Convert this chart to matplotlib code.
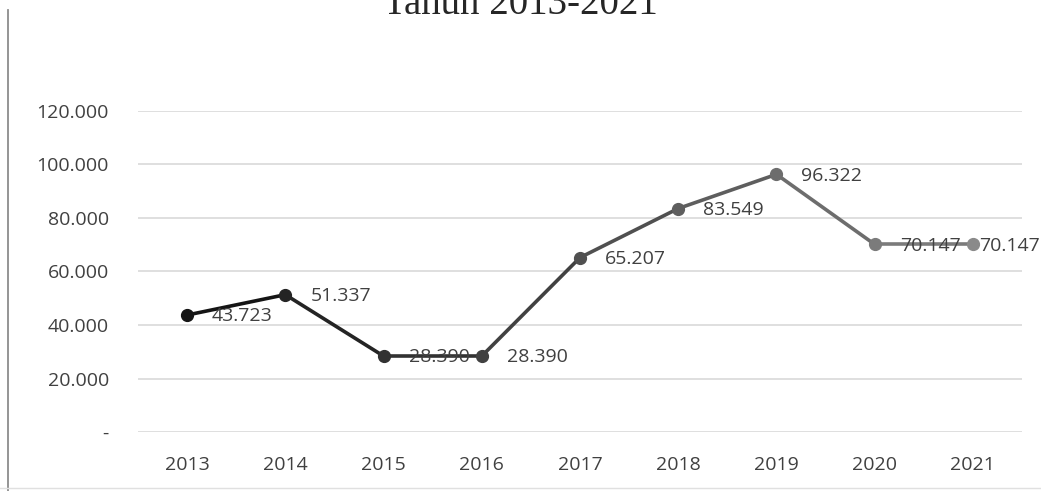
import matplotlib
matplotlib.use("Agg")
import matplotlib.pyplot as plt
import numpy as np
from matplotlib.colors import to_rgb

years = ['2013', '2014', '2015', '2016', '2017', '2018', '2019', '2020', '2021']
values = [43723, 51337, 28390, 28390, 65207, 83549, 96322, 70147, 70147]
yticks = [0, 20000, 40000, 60000, 80000, 100000, 120000]


def fmt(v):
    # thousands separated with a dot, zero shown as a dash
    if v == 0:
        return '-'
    return f'{v:,.0f}'.replace(',', '.')


plt.rcParams['font.family'] = ['Open Sans', 'DejaVu Sans']

fig = plt.figure(figsize=(10.41, 4.91), dpi=100)
ax = fig.add_axes([138 / 1041, 59 / 491, 884 / 1041, 321 / 491])

x = np.arange(len(years))

# line fades from near-black to mid grey along the series
c0 = np.array(to_rgb('#151515'))
c1 = np.array(to_rgb('#8a8a8a'))
cols = [tuple(c0 + (c1 - c0) * i / (len(x) - 1)) for i in range(len(x))]

for i in range(len(x) - 1):
    ax.plot(x[i:i + 2], values[i:i + 2], color=cols[i], lw=2.6,
            solid_capstyle='round', zorder=3)
for i in range(len(x)):
    ax.plot(x[i], values[i], 'o', color=cols[i], ms=8.5, zorder=4)
    if i < len(x) - 1:
        ax.annotate(fmt(values[i]), (x[i], values[i]), xytext=(18, -1),
                    textcoords='offset points', ha='left', va='center',
                    fontsize=14, color='#404040', zorder=5)
    else:
        # last label is pushed back inside the chart edge
        ax.annotate(fmt(values[i]), (1.0, values[i]),
                    xycoords=('figure fraction', 'data'), xytext=(-1, -1),
                    textcoords='offset points', ha='right', va='center',
                    fontsize=14, color='#404040', zorder=5,
                    annotation_clip=False)

ax.set_xlim(-0.5, len(years) - 0.5)
ax.set_ylim(0, 120000)
ax.set_yticks(yticks)
ax.set_yticklabels([fmt(v) for v in yticks])
ax.set_xticks(x)
ax.set_xticklabels(years)
ax.tick_params(axis='y', length=0, pad=21, labelsize=14, labelcolor='#404040')
ax.tick_params(axis='x', length=0, pad=17, labelsize=14, labelcolor='#404040')
ax.grid(axis='y', color='#d9d9d9', lw=1.2)
ax.set_axisbelow(True)
for s in ax.spines.values():
    s.set_visible(False)

fig.text(0.5, 1 - 14 / 491, 'Tahun 2013-2021', ha='center', va='baseline',
         fontsize=28, color='#262626', family=['Liberation Serif', 'DejaVu Serif'])

# chart frame edges
fig.add_artist(plt.Line2D([8 / 1041, 8 / 1041], [0, 1 - 10 / 491],
                          color='#8c8c8c', lw=1.3))
fig.add_artist(plt.Line2D([0, 1], [3 / 491, 3 / 491], color='#e0e0e0', lw=1.0))

fig.savefig('out.png', dpi=100)
